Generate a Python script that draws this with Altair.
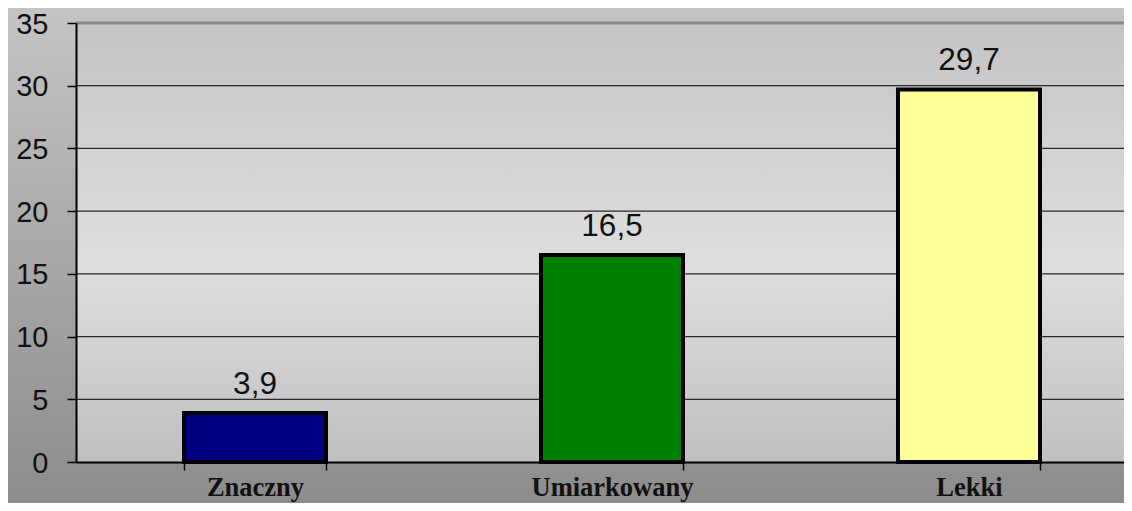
import altair as alt
import pandas as pd

categories = ["Znaczny", "Umiarkowany", "Lekki"]
values = [3.9, 16.5, 29.7]
value_labels = ["3,9", "16,5", "29,7"]
bar_colors = ["#000080", "#008000", "#ffff99"]
y_ticks = [0, 5, 10, 15, 20, 25, 30, 35]
grid_values = [5, 10, 15, 20, 25, 30]

W = 1048
H = 439
PAD = {"left": 68, "top": 15, "right": 0, "bottom": 41}

bars_df = pd.DataFrame({"cat": categories, "val": values, "lab": value_labels})
grid_df = pd.DataFrame({"g": grid_values})
one = pd.DataFrame({"k": [0]})

x_scale = alt.Scale(domain=categories, paddingInner=0.6022, paddingOuter=0.2689, align=0.5625)
y_scale = alt.Scale(domain=[0, 35], nice=False, zero=True)

outer_bg = alt.Chart(one).mark_rect(
    fill=alt.Gradient(gradient="linear", x1=0, x2=0, y1=0, y2=1,
                      stops=[alt.GradientStop(offset=0, color="#c4c4c4"),
                             alt.GradientStop(offset=1, color="#8c8c8c")])
).encode(x=alt.value(-PAD["left"]), x2=alt.value(W), y=alt.value(-PAD["top"]), y2=alt.value(H + PAD["bottom"]))

plot_bg = alt.Chart(one).mark_rect(
    fill=alt.Gradient(gradient="linear", x1=0, x2=0, y1=0, y2=1,
                      stops=[alt.GradientStop(offset=0, color="#c4c4c4"),
                             alt.GradientStop(offset=0.55, color="#dedede"),
                             alt.GradientStop(offset=1, color="#c0c0c0")])
).encode(x=alt.value(0), x2=alt.value(W), y=alt.value(0), y2=alt.value(H))

top_border = alt.Chart(one).mark_rule(color="#8a8a8a", strokeWidth=3).encode(
    y=alt.datum(35, scale=y_scale)
)

grid = alt.Chart(grid_df).mark_rule(color="#2a2a2a", strokeWidth=1.2).encode(
    y=alt.Y("g:Q", scale=y_scale)
)

bars = alt.Chart(bars_df).mark_bar(stroke="#000000", strokeWidth=4).encode(
    x=alt.X("cat:N", scale=x_scale, sort=categories,
            axis=alt.Axis(title=None, tickBand="extent", labelAngle=0, grid=False,
                          domainColor="#000000", domainWidth=2, tickColor="#000000",
                          tickWidth=1.5, tickSize=8, labelFont="Liberation Serif",
                          labelFontWeight="bold", labelFontSize=26.5, labelColor="#111111",
                          labelBaseline="alphabetic", labelPadding=25, zindex=1)),
    y=alt.Y("val:Q", scale=y_scale,
            axis=alt.Axis(title=None, values=y_ticks, format="d", grid=False,
                          domainColor="#000000", domainWidth=2, tickColor="#000000",
                          tickWidth=1.5, tickSize=9, labelFont="Liberation Sans",
                          labelFontSize=29, labelColor="#111111", labelPadding=19,
                          labelBaseline="middle", labelOffset=1, zindex=1)),
    fill=alt.Color("cat:N", scale=alt.Scale(domain=categories, range=bar_colors), legend=None),
)

text = alt.Chart(bars_df).mark_text(
    font="Liberation Sans", fontSize=31.5, color="#111111", baseline="alphabetic", dy=-19
).encode(
    x=alt.X("cat:N", scale=x_scale, sort=categories),
    y=alt.Y("val:Q", scale=y_scale),
    text="lab:N",
)

chart = alt.layer(outer_bg, plot_bg, top_border, grid, bars, text).properties(
    width=W, height=H,
    autosize=alt.AutoSizeParams(type="none"),
    padding=PAD,
    background="#a8a8a8",
).configure_view(stroke=None)

chart.save("out.html", embed_options={"renderer": "svg", "actions": False})
